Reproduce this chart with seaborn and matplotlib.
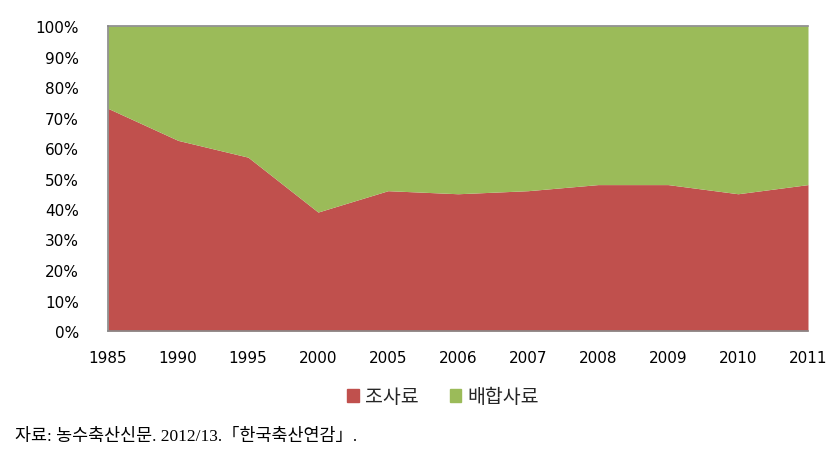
import matplotlib
matplotlib.use("Agg")
import matplotlib.pyplot as plt
import seaborn as sns
import numpy as np
from matplotlib.patches import Patch

years = ["1985", "1990", "1995", "2000", "2005", "2006", "2007", "2008", "2009", "2010", "2011"]
roughage = [73, 62.5, 57, 39, 46, 45, 46, 48, 48, 45, 48]
compound = [100 - v for v in roughage]
series_names = ["조사료", "배합사료"]
colors = ["#C0504D", "#9BBB59"]
yticks = [0, 10, 20, 30, 40, 50, 60, 70, 80, 90, 100]
source_text = "자료: 농수축산신문. 2012/13.「한국축산연감」."

sns.set_theme(style="white")
plt.rcParams['font.family'] = ['DejaVu Sans', 'Noto Sans CJK KR']

fig = plt.figure(figsize=(8.34, 4.6), dpi=100)
ax = fig.add_axes([108/834, 1-332/460, 700/834, 305/460])

x = np.arange(len(years))
ax.stackplot(x, roughage, compound, colors=colors, linewidth=0)
ax.set_xlim(0, len(years) - 1)
ax.set_ylim(0, 100)
ax.set_yticks(yticks)
ax.set_yticklabels([f"{v}%" for v in yticks], fontsize=11, color="#000000")
ax.set_xticks(x)
ax.set_xticklabels(years, fontsize=11, color="#000000")
ax.tick_params(axis="y", pad=21, length=0)
ax.tick_params(axis="x", pad=14, length=0)
for s in ["left", "top", "bottom"]:
    ax.spines[s].set_color("#888888")
    ax.spines[s].set_linewidth(1.2)
ax.spines["right"].set_visible(False)

handles = [Patch(color=c, label=n) for c, n in zip(colors, series_names)]
fig.legend(handles=handles, loc="center", bbox_to_anchor=(443/834, 1-398/460), ncol=2,
           frameon=False, handlelength=0.6, handleheight=0.6,
           handletextpad=0.3, columnspacing=1.6,
           prop={"family": ["Noto Sans CJK KR"], "size": 14, "weight": "medium"})

fig.text(15/834, 1-437/460, source_text, fontsize=12.5, va="center", ha="left",
         family=['Liberation Serif', 'Noto Sans CJK KR'], color="#000000")

fig.savefig("out.png", dpi=100)
